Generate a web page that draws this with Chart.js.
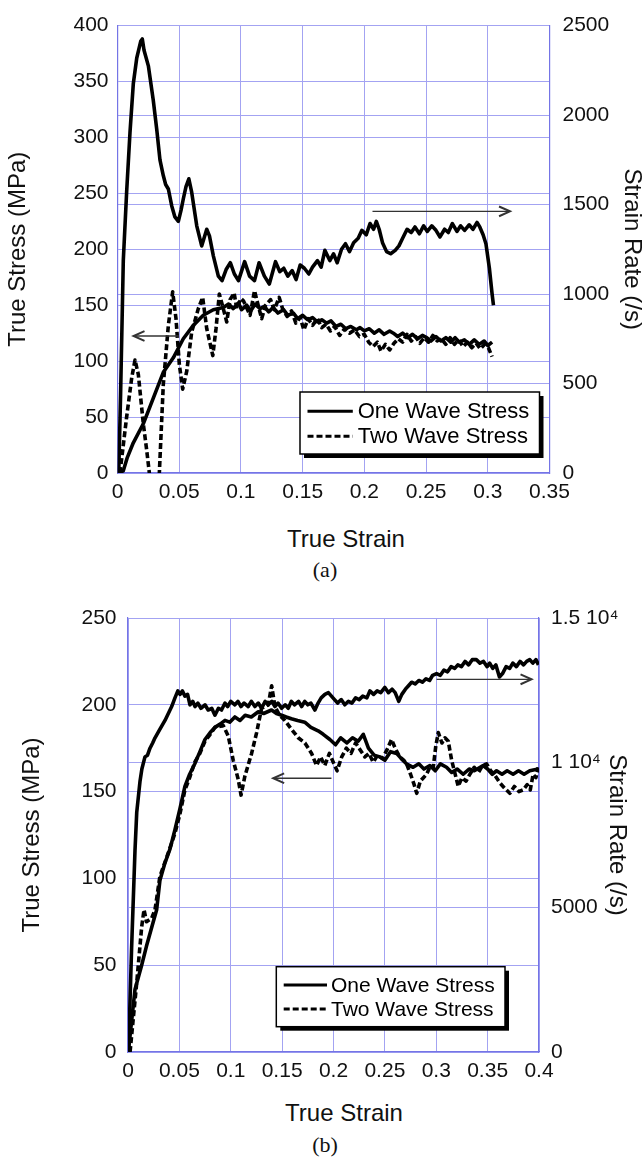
<!DOCTYPE html>
<html>
<head>
<meta charset="utf-8">
<script src="https://cdn.jsdelivr.net/npm/chart.js@4/dist/chart.umd.min.js"></script>
<style>
  body { margin: 0; background: #fff; width: 644px; height: 1160px; position: relative; overflow: hidden;
         font-family: "Liberation Sans", Arial, sans-serif; color: #111; }
  canvas { position: absolute; left: 0; }
  .xtitle { position: absolute; font-size: 24px; transform: translate(-50%, -50%); white-space: nowrap; }
  .caption { position: absolute; font-family: "Liberation Serif", "Times New Roman", serif; font-size: 22px;
             transform: translate(-50%, -50%); }
</style>
</head>
<body>
<canvas id="chartA" width="644" height="510" style="top:0"></canvas>
<div class="xtitle" style="left:346px;top:539px">True Strain</div>
<div class="caption" style="left:325px;top:570px">(a)</div>

<canvas id="chartB" width="644" height="500" style="top:590px"></canvas>
<div class="xtitle" style="left:344px;top:1113px">True Strain</div>
<div class="caption" style="left:325px;top:1145px">(b)</div>

<script>
// ---- test (a) ----
const aStrainTicks = ['0', '0.05', '0.1', '0.15', '0.2', '0.25', '0.3', '0.35'];

// strain rate, /s
const aRateStrain = [
  0.001, 0.0025, 0.0047, 0.0074, 0.0101, 0.0128, 0.0156, 0.0188, 0.0201, 0.0215,
  0.025, 0.029, 0.0318, 0.0344, 0.0371, 0.039, 0.0412, 0.0439, 0.0465, 0.0493,
  0.0515, 0.0533, 0.0555, 0.0578, 0.0601, 0.0642, 0.0682, 0.0723, 0.0745, 0.0777,
  0.0817, 0.0847, 0.088, 0.0914, 0.0947, 0.098, 0.103, 0.107, 0.111, 0.1147,
  0.119, 0.123, 0.128, 0.1315, 0.1347, 0.138, 0.1415, 0.1447, 0.148, 0.1514,
  0.155, 0.158, 0.162, 0.165, 0.168, 0.172, 0.175, 0.178, 0.1815, 0.1847,
  0.188, 0.1913, 0.195, 0.198, 0.2015, 0.2046, 0.2075, 0.2097, 0.212, 0.2147,
  0.218, 0.2213, 0.225, 0.228, 0.231, 0.2346, 0.238, 0.241, 0.2446, 0.248,
  0.251, 0.2546, 0.258, 0.2613, 0.265, 0.268, 0.2713, 0.275, 0.278, 0.2812,
  0.285, 0.288, 0.2913, 0.2935, 0.2962, 0.2985, 0.3013, 0.3035, 0.3046
];
const aRate = [
  0, 437, 1187, 1569, 1900, 2175, 2319, 2412, 2425, 2362,
  2275, 2081, 1919, 1750, 1662, 1612, 1587, 1494, 1431, 1406,
  1469, 1531, 1600, 1644, 1569, 1381, 1269, 1362, 1325, 1212,
  1100, 1075, 1137, 1175, 1112, 1075, 1181, 1100, 1075, 1175,
  1100, 1056, 1181, 1125, 1144, 1100, 1131, 1081, 1162, 1144,
  1112, 1150, 1187, 1150, 1244, 1187, 1225, 1175, 1250, 1281,
  1237, 1287, 1312, 1356, 1331, 1394, 1362, 1406, 1362, 1287,
  1237, 1225, 1244, 1269, 1312, 1362, 1344, 1375, 1337, 1381,
  1350, 1381, 1356, 1319, 1362, 1344, 1394, 1350, 1381, 1356,
  1387, 1362, 1400, 1375, 1331, 1281, 1144, 1000, 937
];

// one wave stress, MPa
const aOneStrain = [
  0.001, 0.0047, 0.008, 0.0128, 0.0209, 0.029, 0.0371, 0.0452, 0.0533, 0.0614,
  0.0695, 0.0776, 0.0857, 0.09, 0.0938, 0.098, 0.1005, 0.1047, 0.108, 0.1115,
  0.1155, 0.119, 0.1225, 0.126, 0.13, 0.1345, 0.138, 0.1425, 0.146, 0.15,
  0.154, 0.158, 0.162, 0.1655, 0.1695, 0.173, 0.177, 0.181, 0.185, 0.189,
  0.1935, 0.1965, 0.2, 0.204, 0.208, 0.212, 0.216, 0.2205, 0.2235, 0.227,
  0.231, 0.235, 0.239, 0.243, 0.247, 0.2505, 0.254, 0.258, 0.262, 0.266,
  0.27, 0.2735, 0.277, 0.281, 0.285, 0.289, 0.293, 0.297, 0.3, 0.3035
];
const aOne = [
  0, 2, 14, 27, 44, 67, 90, 103, 120, 132,
  141, 146, 148, 151, 147, 152, 146, 150, 145, 151,
  147, 149, 144, 148, 143, 146, 141, 143, 138, 141,
  137, 139, 135, 137, 134, 136, 131, 133, 129, 131,
  128, 130, 127, 129, 125, 128, 124, 127, 125, 122,
  125, 121, 124, 120, 123, 121, 118, 122, 118, 121,
  117, 121, 117, 119, 115, 119, 115, 118, 114, 117
];

// two wave stress, MPa (dips below zero near 0.03)
const aTwoStrain = [
  0.002, 0.0074, 0.0115, 0.0142, 0.0169, 0.0209, 0.0237, 0.0258, 0.03, 0.0339,
  0.0371, 0.0412, 0.0447, 0.0474, 0.0501, 0.0528, 0.0561, 0.0601, 0.0655, 0.069,
  0.0723, 0.0772, 0.0798, 0.0825, 0.0857, 0.0885, 0.0912, 0.0945, 0.0966, 0.1,
  0.102, 0.1074, 0.111, 0.1128, 0.1168, 0.12, 0.124, 0.127, 0.131, 0.134,
  0.1375, 0.141, 0.1445, 0.148, 0.151, 0.1545, 0.158, 0.162, 0.1655, 0.169,
  0.1725, 0.176, 0.18, 0.184, 0.188, 0.192, 0.196, 0.2, 0.2035, 0.207,
  0.2105, 0.2135, 0.217, 0.2205, 0.224, 0.2275, 0.231, 0.2345, 0.238, 0.2415,
  0.245, 0.2485, 0.252, 0.2555, 0.259, 0.2625, 0.266, 0.2695, 0.273, 0.2765,
  0.28, 0.2835, 0.287, 0.2905, 0.294, 0.2975, 0.3005, 0.3035
];
const aTwo = [
  0, 50, 85, 101, 88, 44, 20, 0, -40, 0,
  79, 132, 162, 138, 97, 75, 91, 126, 147, 157,
  129, 105, 129, 160, 147, 135, 155, 161, 147, 156,
  154, 141, 163, 155, 138, 150, 155, 146, 157, 146,
  140, 145, 134, 139, 128, 138, 132, 138, 130, 133,
  127, 131, 123, 129, 125, 128, 122, 124, 117, 113,
  117, 109, 115, 110, 116, 120, 117, 124, 118, 122,
  116, 121, 117, 123, 118, 120, 115, 121, 115, 119,
  113, 117, 112, 116, 111, 115, 112, 104
];

// ---- test (b) ----
const bStrainTicks = ['0', '0.05', '0.1', '0.15', '0.2', '0.25', '0.3', '0.35', '0.4'];
const bRateTicks = ['0', '5000', '1 10\u2074', '1.5 10\u2074'];

const bRateStrain = [
  0.0005, 0.0035, 0.0068, 0.0085, 0.0117, 0.0135, 0.0165, 0.019, 0.0214, 0.024,
  0.0263, 0.0311, 0.036, 0.0425, 0.0457, 0.0485, 0.0506, 0.053, 0.0554, 0.058,
  0.0603, 0.063, 0.0652, 0.068, 0.071, 0.0749, 0.078, 0.0815, 0.0846, 0.088,
  0.091, 0.0944, 0.097, 0.1, 0.104, 0.107, 0.11, 0.113, 0.117, 0.12,
  0.1235, 0.1268, 0.13, 0.1335, 0.1365, 0.14, 0.143, 0.146, 0.1495, 0.153,
  0.156, 0.159, 0.162, 0.166, 0.169, 0.172, 0.175, 0.178, 0.1819, 0.185,
  0.188, 0.1916, 0.195, 0.198, 0.201, 0.204, 0.2075, 0.211, 0.2145, 0.218,
  0.2215, 0.225, 0.2285, 0.2325, 0.2354, 0.239, 0.2425, 0.246, 0.25, 0.2535,
  0.257, 0.26, 0.2635, 0.2665, 0.27, 0.273, 0.276, 0.2795, 0.283, 0.2865,
  0.29, 0.2935, 0.2965, 0.3003, 0.304, 0.3075, 0.311, 0.3145, 0.318, 0.321,
  0.3245, 0.328, 0.3315, 0.335, 0.339, 0.3425, 0.346, 0.3495, 0.352, 0.355,
  0.358, 0.3615, 0.3645, 0.368, 0.3715, 0.3745, 0.378, 0.3815, 0.385, 0.388,
  0.391, 0.394, 0.397, 0.3995
];
const bRate = [
  0, 3600, 6960, 8280, 9360, 9780, 10200, 10260, 10500, 10680,
  10860, 11160, 11460, 11940, 12240, 12480, 12360, 12480, 12300, 12360,
  12000, 12120, 11940, 12060, 11880, 12000, 11820, 11880, 11640, 11880,
  11820, 12060, 11940, 12120, 12000, 12120, 11940, 12060, 11940, 12120,
  11940, 12060, 11880, 12120, 12000, 12120, 11940, 12060, 11880, 12000,
  11880, 12120, 12000, 12120, 11940, 12120, 12000, 12060, 11820, 12060,
  12240, 12360, 12420, 12300, 12180, 12060, 12180, 12000, 12120, 12060,
  12240, 12180, 12300, 12240, 12480, 12360, 12480, 12420, 12600, 12420,
  12540, 12420, 12120, 12360, 12540, 12660, 12780, 12720, 12840, 12780,
  12900, 12840, 13020, 13080, 13020, 13200, 13140, 13320, 13260, 13380,
  13320, 13500, 13380, 13560, 13560, 13440, 13500, 13320, 13440, 13260,
  13380, 12960, 13080, 13320, 13260, 13440, 13320, 13500, 13380, 13500,
  13560, 13440, 13560, 13380
];

const bOneStrain = [
  0.0003, 0.0068, 0.0133, 0.018, 0.0246, 0.0279, 0.0311, 0.036, 0.0409, 0.0457,
  0.0505, 0.0554, 0.06, 0.065, 0.07, 0.0749, 0.08, 0.0846, 0.09, 0.0944,
  0.099, 0.104, 0.109, 0.114, 0.12, 0.1268, 0.132, 0.1397, 0.1445, 0.1495,
  0.154, 0.159, 0.165, 0.172, 0.178, 0.185, 0.19, 0.1965, 0.202, 0.207,
  0.213, 0.2185, 0.224, 0.229, 0.234, 0.2395, 0.2451, 0.25, 0.2555, 0.2614,
  0.266, 0.271, 0.2775, 0.283, 0.288, 0.2938, 0.299, 0.304, 0.31, 0.315,
  0.3205, 0.3262, 0.332, 0.337, 0.3456, 0.35, 0.3545, 0.3587, 0.364, 0.369,
  0.3748, 0.38, 0.3855, 0.391, 0.3992
];
const bOne = [
  0, 36, 50, 61, 75, 82, 99, 109, 117, 128,
  140, 153, 160, 166, 173, 180, 184, 187, 189, 191,
  190, 193, 191, 194, 193, 196, 195, 197, 195, 194,
  193, 192, 191, 190, 187, 185, 183, 180, 177, 181,
  178, 181, 179, 183, 175, 171, 170, 168, 173, 172,
  169, 166, 164, 166, 163, 165, 162, 166, 164, 161,
  163, 160, 163, 162, 165, 163, 160, 162, 160, 162,
  160, 162, 160, 162, 163
];

const bTwoStrain = [
  0.002, 0.0085, 0.0133, 0.0156, 0.018, 0.023, 0.0263, 0.031, 0.0376, 0.0457,
  0.0505, 0.0554, 0.06, 0.065, 0.07, 0.0749, 0.08, 0.0846, 0.0927, 0.0976,
  0.1024, 0.1073, 0.11, 0.1138, 0.1203, 0.1252, 0.13, 0.1365, 0.1398, 0.143,
  0.1475, 0.1527, 0.159, 0.1657, 0.1722, 0.1787, 0.1835, 0.1875, 0.1915, 0.196,
  0.2005, 0.2035, 0.208, 0.2125, 0.217, 0.2215, 0.226, 0.2305, 0.2345, 0.2386,
  0.243, 0.2475, 0.252, 0.2565, 0.26, 0.2645, 0.2685, 0.2711, 0.275, 0.2785,
  0.281, 0.2845, 0.2875, 0.2906, 0.2945, 0.2971, 0.2995, 0.302, 0.3055, 0.3085,
  0.3117, 0.315, 0.318, 0.3214, 0.325, 0.329, 0.3327, 0.337, 0.341, 0.345,
  0.349, 0.353, 0.3575, 0.362, 0.3665, 0.3716, 0.376, 0.3805, 0.3846, 0.3885,
  0.3915, 0.3943, 0.397, 0.3992
];
const bTwo = [
  0, 40, 72, 82, 75, 77, 82, 101, 112, 126,
  137, 151, 158, 167, 172, 179, 183, 187, 188, 182,
  168, 157, 148, 159, 172, 184, 198, 200, 211, 199,
  194, 191, 186, 181, 178, 172, 165, 170, 165, 172,
  166, 162, 170, 175, 172, 178, 174, 170, 172, 167,
  171, 169, 174, 180, 175, 170, 168, 166, 160, 154,
  149, 156, 158, 160, 165, 164, 176, 184, 178, 181,
  179, 168, 161, 153, 158, 156, 160, 164, 161, 165,
  166, 162, 159, 155, 152, 149, 153, 150, 151, 154,
  151, 160, 158, 164
];

const FONT = '"Liberation Sans", Arial, sans-serif';
const GRID = '#a3a3f2';
const EDGE = '#7474e6';

Chart.defaults.font.family = FONT;
Chart.defaults.color = '#111';

const pts = (xs, ys) => xs.map((x, i) => ({ x: x, y: ys[i] }));

// arrows pointing at each curve's axis, and the boxed legend with a drop shadow
const overlay = {
  id: 'overlay',
  afterDatasetsDraw(chart, args, opts) {
    const ctx = chart.ctx;
    const area = chart.chartArea;
    ctx.save();
    ctx.strokeStyle = '#333';
    ctx.lineWidth = 1.4;
    opts.arrows.forEach(a => {
      const sx = chart.scales.x, sy = chart.scales[a.axis];
      const x1 = sx.getPixelForValue(a.from[0]), y1 = sy.getPixelForValue(a.from[1]);
      const x2 = sx.getPixelForValue(a.to[0]), y2 = sy.getPixelForValue(a.to[1]);
      ctx.beginPath();
      ctx.moveTo(x1, y1);
      ctx.lineTo(x2, y2);
      ctx.stroke();
      const ang = Math.atan2(y2 - y1, x2 - x1);
      ctx.beginPath();
      ctx.moveTo(x2 - 12 * Math.cos(ang - 0.42), y2 - 12 * Math.sin(ang - 0.42));
      ctx.lineTo(x2, y2);
      ctx.lineTo(x2 - 12 * Math.cos(ang + 0.42), y2 - 12 * Math.sin(ang + 0.42));
      ctx.lineWidth = 2;
      ctx.stroke();
      ctx.lineWidth = 1.4;
    });

    const L = opts.legend;
    const bx = area.right - L.right - L.width;
    const by = area.bottom - L.bottom - L.height;
    ctx.fillStyle = '#000';
    ctx.fillRect(bx + 4, by + 4, L.width, L.height);
    ctx.fillStyle = '#fff';
    ctx.fillRect(bx, by, L.width, L.height);
    ctx.strokeStyle = '#000';
    ctx.lineWidth = 1.5;
    ctx.strokeRect(bx, by, L.width, L.height);
    ctx.font = L.font + 'px ' + FONT;
    ctx.textBaseline = 'middle';
    ctx.fillStyle = '#000';
    L.items.forEach((idx, i) => {
      const ds = chart.data.datasets[idx];
      const y = by + L.rows[i];
      ctx.setLineDash(ds.borderDash || []);
      ctx.lineWidth = 3;
      ctx.beginPath();
      ctx.moveTo(bx + L.lineFrom, y);
      ctx.lineTo(bx + L.lineTo, y);
      ctx.stroke();
      ctx.setLineDash([]);
      ctx.fillText(ds.label, bx + L.textX, y + 1);
    });
    ctx.restore();
  }
};

function lineSet(label, data, axis, dashed) {
  return {
    label: label,
    data: data,
    yAxisID: axis,
    showLine: true,
    borderColor: '#000',
    borderWidth: 3.6,
    borderDash: dashed ? [6, 3] : [],
    borderJoinStyle: 'round',
    pointRadius: 0,
    tension: 0,
    fill: false
  };
}

function makeChart(id, s) {
  new Chart(document.getElementById(id), {
    type: 'scatter',
    data: {
      datasets: [
        lineSet('Strain Rate', pts(s.rate[0], s.rate[1]), 'y1', false),
        lineSet('One Wave Stress', pts(s.one[0], s.one[1]), 'y', false),
        lineSet('Two Wave Stress', pts(s.two[0], s.two[1]), 'y', true)
      ]
    },
    plugins: [overlay],
    options: {
      responsive: false,
      animation: false,
      devicePixelRatio: 1,
      layout: { padding: { top: s.top, left: 0, right: 0, bottom: 0 } },
      plugins: {
        legend: { display: false },
        tooltip: { enabled: false },
        overlay: { arrows: s.arrows, legend: s.legend }
      },
      scales: {
        x: {
          type: 'linear', min: 0, max: s.xMax,
          afterFit: sc => { sc.height = s.xHeight; },
          afterBuildTicks: sc => { sc.ticks = s.xTicks.map((t, i) => ({ value: i * 0.05 })); },
          ticks: { callback: (v, i) => s.xTicks[i], font: { size: 21 }, padding: 7,
                   autoSkip: false, maxRotation: 0, color: '#111' },
          grid: { color: GRID, lineWidth: 1, drawTicks: false },
          border: { color: EDGE, width: 1.2 }
        },
        y: {
          position: 'left', min: 0, max: s.yMax,
          afterFit: sc => { sc.width = s.left; },
          ticks: { stepSize: s.yStep, font: { size: 21 }, padding: s.leftPad, color: '#111' },
          grid: { color: GRID, lineWidth: 1, drawTicks: false },
          border: { color: EDGE, width: 1.2 },
          title: { display: true, text: 'True Stress (MPa)', font: { size: 24, lineHeight: 1 },
                   padding: { top: s.leftTitle, bottom: 0 }, color: '#111' }
        },
        y1: {
          position: 'right', min: 0, max: s.rMax,
          afterFit: sc => { sc.width = s.right; },
          ticks: { stepSize: s.rStep, font: { size: 21 }, padding: s.rightPad, color: '#111',
                   callback: s.rTicks ? (v, i) => s.rTicks[i] : undefined },
          grid: { color: GRID, lineWidth: 1, drawTicks: false, drawOnChartArea: true },
          border: { color: EDGE, width: 1.2 },
          title: { display: true, text: 'Strain Rate (/s)', font: { size: 24, lineHeight: 1 },
                   padding: { top: s.rightTitle, bottom: 0 }, color: '#111' }
        }
      }
    }
  });
}

makeChart('chartA', {
  rate: [aRateStrain, aRate], one: [aOneStrain, aOne], two: [aTwoStrain, aTwo],
  xMax: 0.35, xTicks: aStrainTicks, yMax: 400, yStep: 50, rMax: 2500, rStep: 500, rTicks: null,
  top: 19, xHeight: 37, left: 117.5, right: 94.5, leftPad: 9, rightPad: 13, leftTitle: 6.5, rightTitle: 0,
  arrows: [
    { axis: 'y1', from: [0.2066, 1462], to: [0.318, 1462] },
    { axis: 'y', from: [0.0498, 122.5], to: [0.013, 122.5] }
  ],
  legend: { width: 239.5, height: 62, right: 10, bottom: 19, rows: [19.3, 44.3],
            lineFrom: 7.5, lineTo: 52.8, textX: 57.7, font: 22, items: [1, 2] }
});

makeChart('chartB', {
  rate: [bRateStrain, bRate], one: [bOneStrain, bOne], two: [bTwoStrain, bTwo],
  xMax: 0.4, xTicks: bStrainTicks, yMax: 250, yStep: 50, rMax: 15000, rStep: 5000, rTicks: bRateTicks,
  top: 28, xHeight: 38, left: 128, right: 105, leftPad: 11.5, rightPad: 12, leftTitle: 20, rightTitle: 15,
  arrows: [
    { axis: 'y1', from: [0.3003, 12880], to: [0.3927, 12880] },
    { axis: 'y', from: [0.198, 157.7], to: [0.1413, 157.7] }
  ],
  legend: { width: 228.7, height: 60, right: 34, bottom: 25.3, rows: [18.3, 42.3],
            lineFrom: 7.4, lineTo: 50.7, textX: 54.7, font: 21, items: [1, 2] }
});
</script>
</body>
</html>
